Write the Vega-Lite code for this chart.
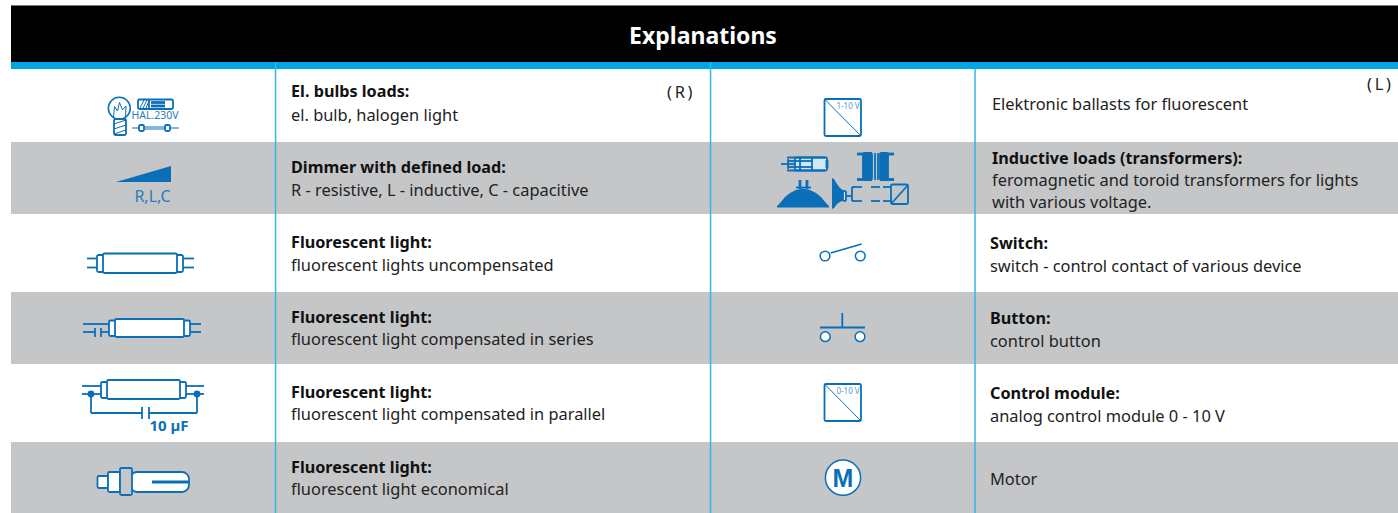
{"$schema":"https://vega.github.io/schema/vega-lite/v6.json","width":1398,"height":513,"autosize":{"type":"fit","contains":"padding"},"padding":0,"background":"#ffffff","config":{"view":{"stroke":null}},
"resolve":{"scale":{"size":"independent","fill":"independent","color":"independent","strokeWidth":"independent"}},
"datasets":{
"bands":[{"x":11,"x2":1398,"y":5,"y2":6,"k":"edge"},{"x":11,"x2":1398,"y":6,"y2":62,"k":"head"},{"x":11,"x2":1398,"y":62,"y2":69,"k":"accent"},{"x":11,"x2":1398,"y":142,"y2":214,"k":"row"},{"x":11,"x2":1398,"y":292,"y2":364,"k":"row"},{"x":11,"x2":1398,"y":442,"y2":513,"k":"row"},{"x":274.8,"x2":276.3,"y":62,"y2":513,"k":"divider"},{"x":709.8,"x2":711.3,"y":62,"y2":513,"k":"divider"},{"x":974.3,"x2":975.8,"y":69,"y2":513,"k":"divider"}],
"tubes":[{"x":130,"x2":189,"y":472,"y2":492}],
"boxes":[
{"x":114,"x2":126,"y":119,"y2":135,"k":"hollow"},{"x":138,"x2":173,"y":99.5,"y2":109,"k":"hollow"},{"x":139,"x2":144,"y":125,"y2":131,"k":"hollow"},{"x":165,"x2":170,"y":125,"y2":131,"k":"hollow"},
{"x":97,"x2":104,"y":255,"y2":272,"k":"hollow"},{"x":176,"x2":183,"y":255,"y2":272,"k":"hollow"},{"x":103,"x2":177,"y":253.5,"y2":273,"k":"hollow"},
{"x":109,"x2":116,"y":320.5,"y2":336,"k":"hollow"},{"x":183,"x2":190,"y":320.5,"y2":336,"k":"hollow"},{"x":115,"x2":184,"y":319,"y2":337,"k":"hollow"},
{"x":101,"x2":108,"y":382,"y2":398,"k":"hollow"},{"x":179,"x2":186,"y":382,"y2":398,"k":"hollow"},{"x":107,"x2":180,"y":380,"y2":399,"k":"hollow"},
{"x":97.5,"x2":108,"y":476,"y2":488,"k":"hollow"},{"x":108,"x2":120,"y":472,"y2":492,"k":"hollow"},{"x":120,"x2":132,"y":468,"y2":495,"k":"shade"},
{"x":824.5,"x2":861,"y":99,"y2":136,"k":"hollow"},{"x":824.5,"x2":861,"y":384,"y2":421,"k":"hollow"},
{"x":795,"x2":827,"y":157.5,"y2":170.5,"k":"pale"},{"x":891,"x2":908,"y":184.5,"y2":204,"k":"shade"},{"x":843,"x2":846,"y":191,"y2":201,"k":"pale"},
{"x":863,"x2":872,"y":153,"y2":180,"k":"solid"},{"x":880,"x2":888,"y":153,"y2":180,"k":"solid"}
],
"wedges":[
{"x":116,"y":182,"y2":182,"s":"wedge"},{"x":171,"y":166,"y2":182,"s":"wedge"},
{"x":777,"y":206,"y2":207.5,"s":"dome"},{"x":780,"y":203,"y2":207.5,"s":"dome"},{"x":785,"y":197,"y2":207.5,"s":"dome"},{"x":790,"y":193,"y2":207.5,"s":"dome"},{"x":796,"y":190,"y2":207.5,"s":"dome"},{"x":803,"y":188.5,"y2":207.5,"s":"dome"},{"x":810,"y":190,"y2":207.5,"s":"dome"},{"x":816,"y":193,"y2":207.5,"s":"dome"},{"x":821,"y":197,"y2":207.5,"s":"dome"},{"x":826,"y":203,"y2":207.5,"s":"dome"},{"x":829,"y":206,"y2":207.5,"s":"dome"},
{"x":832,"y":178,"y2":209,"s":"reflector"},{"x":834,"y":179,"y2":208,"s":"reflector"},{"x":837,"y":184,"y2":204,"s":"reflector"},{"x":840,"y":188,"y2":202,"s":"reflector"},{"x":844,"y":191,"y2":200,"s":"reflector"}
],
"strokes":[
{"x":113.5,"y":117,"x2":114.5,"y2":106.5,"p":"thin"},{"x":114.5,"y":106.5,"x2":117.5,"y2":111,"p":"thin"},{"x":117.5,"y":111,"x2":119.5,"y2":102.5,"p":"thin"},{"x":119.5,"y":102.5,"x2":122.5,"y2":110,"p":"thin"},{"x":122.5,"y":110,"x2":126,"y2":106,"p":"thin"},{"x":126,"y":106,"x2":125.5,"y2":117,"p":"thin"},
{"x":114,"y":124,"x2":126,"y2":120,"p":"thin"},{"x":114,"y":129,"x2":126,"y2":125,"p":"thin"},{"x":114,"y":134,"x2":126,"y2":130,"p":"thin"},
{"x":149,"y":99.5,"x2":149,"y2":109,"p":"mid"},{"x":140,"y":108,"x2":144,"y2":100,"p":"thin"},{"x":143,"y":108,"x2":147,"y2":100,"p":"thin"},{"x":146,"y":108,"x2":149,"y2":101,"p":"thin"},{"x":151,"y":102.5,"x2":165,"y2":102.5,"p":"thick"},{"x":151,"y":106,"x2":165,"y2":106,"p":"thick"},
{"x":132,"y":128,"x2":139,"y2":128,"p":"thin"},{"x":170,"y":128,"x2":179,"y2":128,"p":"thin"},{"x":144,"y":127,"x2":165,"y2":127,"p":"thin"},{"x":144,"y":129,"x2":165,"y2":129,"p":"thin"},
{"x":87,"y":258.5,"x2":97,"y2":258.5,"p":"mid"},{"x":87,"y":267.5,"x2":97,"y2":267.5,"p":"mid"},{"x":183,"y":258.5,"x2":194,"y2":258.5,"p":"mid"},{"x":183,"y":267.5,"x2":194,"y2":267.5,"p":"mid"},
{"x":83,"y":324,"x2":109,"y2":324,"p":"mid"},{"x":83,"y":332,"x2":95,"y2":332,"p":"mid"},{"x":95,"y":328,"x2":95,"y2":337,"p":"mid"},{"x":101,"y":328,"x2":101,"y2":337,"p":"mid"},{"x":101,"y":332,"x2":109,"y2":332,"p":"mid"},{"x":190,"y":324,"x2":201,"y2":324,"p":"mid"},{"x":190,"y":332,"x2":201,"y2":332,"p":"mid"},
{"x":82,"y":386,"x2":101,"y2":386,"p":"mid"},{"x":82,"y":394,"x2":101,"y2":394,"p":"mid"},{"x":186,"y":386,"x2":204,"y2":386,"p":"mid"},{"x":186,"y":394,"x2":204,"y2":394,"p":"mid"},{"x":91,"y":394,"x2":91,"y2":413,"p":"mid"},{"x":197,"y":394,"x2":197,"y2":413,"p":"mid"},{"x":91,"y":413,"x2":142,"y2":413,"p":"mid"},{"x":149,"y":413,"x2":197,"y2":413,"p":"mid"},{"x":142,"y":407,"x2":142,"y2":419,"p":"mid"},{"x":149,"y":407,"x2":149,"y2":419,"p":"mid"},
{"x":152,"y":482,"x2":189,"y2":482,"p":"thick"},
{"x":824.5,"y":99,"x2":861,"y2":136,"p":"thin"},{"x":824.5,"y":384,"x2":861,"y2":421,"p":"thin"},
{"x":781,"y":164,"x2":795,"y2":164,"p":"mid"},{"x":788,"y":159,"x2":788,"y2":169,"p":"mid"},{"x":800,"y":158,"x2":800,"y2":170,"p":"mid"},{"x":788,"y":161,"x2":812,"y2":161,"p":"mid"},{"x":788,"y":167,"x2":812,"y2":167,"p":"mid"},{"x":812,"y":158,"x2":812,"y2":170,"p":"mid"},{"x":787,"y":157.5,"x2":825,"y2":157.5,"p":"mid"},{"x":787,"y":170.5,"x2":825,"y2":170.5,"p":"mid"},{"x":827,"y":160,"x2":827,"y2":168,"p":"thick"},
{"x":857,"y":154,"x2":872,"y2":154,"p":"thick"},{"x":857,"y":179.5,"x2":872,"y2":179.5,"p":"thick"},{"x":880,"y":154,"x2":894,"y2":154,"p":"thick"},{"x":880,"y":179.5,"x2":894,"y2":179.5,"p":"thick"},{"x":875,"y":153,"x2":875,"y2":180,"p":"mid"},{"x":878,"y":153,"x2":878,"y2":180,"p":"mid"},
{"x":800,"y":189,"x2":800,"y2":180,"p":"thick"},{"x":807,"y":189,"x2":807,"y2":180,"p":"thick"},{"x":796,"y":187.5,"x2":811,"y2":187.5,"p":"mid"},
{"x":846,"y":196,"x2":852,"y2":196,"p":"mid"},{"x":852,"y":187,"x2":852,"y2":201,"p":"mid"},{"x":852,"y":187,"x2":862,"y2":187,"p":"mid"},{"x":852,"y":201,"x2":862,"y2":201,"p":"mid"},{"x":871,"y":187,"x2":880,"y2":187,"p":"mid"},{"x":871,"y":201,"x2":880,"y2":201,"p":"mid"},{"x":883,"y":187,"x2":891,"y2":187,"p":"mid"},{"x":883,"y":201,"x2":891,"y2":201,"p":"mid"},
{"x":891,"y":204,"x2":908,"y2":185,"p":"mid"},
{"x":830.7,"y":253,"x2":861.7,"y2":244,"p":"mid"},
{"x":820,"y":327.5,"x2":865,"y2":327.5,"p":"mid"},{"x":842.3,"y":313,"x2":842.3,"y2":327.5,"p":"mid"}
],
"rings":[{"x":119.3,"y":108.3,"k":"bulb"},{"x":825,"y":256,"k":"contact"},{"x":860.3,"y":256,"k":"contact"},{"x":825.3,"y":336.7,"k":"contact"},{"x":860,"y":336.7,"k":"contact"},{"x":843,"y":477.7,"k":"motor"},{"x":91,"y":394,"k":"node"},{"x":197,"y":394,"k":"node"}],
"labels":[
{"x":291,"y":91,"t":"El. bulbs loads:","w":"head"},{"x":291,"y":115,"t":"el. bulb, halogen light","w":"body"},
{"x":291,"y":167,"t":"Dimmer with defined load:","w":"head"},{"x":291,"y":190,"t":"R - resistive, L - inductive, C - capacitive","w":"body"},
{"x":291,"y":242,"t":"Fluorescent light:","w":"head"},{"x":291,"y":265,"t":"fluorescent lights uncompensated","w":"body"},
{"x":291,"y":317,"t":"Fluorescent light:","w":"head"},{"x":291,"y":339,"t":"fluorescent light compensated in series","w":"body"},
{"x":291,"y":392,"t":"Fluorescent light:","w":"head"},{"x":291,"y":414,"t":"fluorescent light compensated in parallel","w":"body"},
{"x":291,"y":467,"t":"Fluorescent light:","w":"head"},{"x":291,"y":489,"t":"fluorescent light economical","w":"body"},
{"x":992,"y":104,"t":"Elektronic ballasts for fluorescent","w":"body"},
{"x":992,"y":158,"t":"Inductive loads (transformers):","w":"head"},{"x":992,"y":180,"t":"feromagnetic and toroid transformers for lights","w":"body"},{"x":992,"y":202,"t":"with various voltage.","w":"body"},
{"x":990,"y":243,"t":"Switch:","w":"head"},{"x":990,"y":266,"t":"switch - control contact of various device","w":"body"},
{"x":990,"y":318,"t":"Button:","w":"head"},{"x":990,"y":341,"t":"control button","w":"body"},
{"x":990,"y":393,"t":"Control module:","w":"head"},{"x":990,"y":416,"t":"analog control module 0 - 10 V","w":"body"},
{"x":990,"y":479,"t":"Motor","w":"body"},
{"x":667,"y":92,"t":"(\u2009R\u2009)","w":"body"},{"x":1367,"y":84,"t":"(\u2009L\u2009)","w":"body"}
],
"iconText":[{"x":155,"y":116,"t":"HAL.230V","k":"hal"},{"x":152.5,"y":197,"t":"R,L,C","k":"rlc"},{"x":848,"y":107,"t":"1-10 V","k":"volt"},{"x":848,"y":392,"t":"0-10 V","k":"volt"}]
},
"layer":[
{"data":{"name":"bands"},"mark":{"type":"rect"},"encoding":{"x":{"field":"x","type":"quantitative","scale":{"domain":[0,1398],"nice":false,"zero":false},"axis":null},"x2":{"field":"x2"},"y":{"field":"y","type":"quantitative","scale":{"domain":[513,0],"nice":false,"zero":false},"axis":null},"y2":{"field":"y2"},"fill":{"field":"k","type":"nominal","legend":null,"scale":{"domain":["edge","head","accent","row","divider"],"range":["#777777","#000000","#00a5e3","#c5c6c8","#35b6ea"]}}}},
{"data":{"name":"wedges"},"mark":{"type":"area","color":"#0b6fb8","interpolate":"linear"},"encoding":{"x":{"field":"x","type":"quantitative"},"y":{"field":"y","type":"quantitative"},"y2":{"field":"y2"},"detail":{"field":"s"}}},
{"data":{"name":"rings"},"mark":{"type":"point","shape":"circle","filled":true,"stroke":"#0b6fb8","strokeWidth":1.5,"opacity":1},"encoding":{"x":{"field":"x","type":"quantitative"},"y":{"field":"y","type":"quantitative"},"size":{"field":"k","type":"nominal","legend":null,"scale":{"type":"ordinal","domain":["bulb","contact","motor","node"],"range":[480,95,1240,28]}},"fill":{"field":"k","type":"nominal","legend":null,"scale":{"domain":["bulb","contact","motor","node"],"range":["#ffffff","#ffffff","#ffffff","#0b6fb8"]}}}},
{"data":{"name":"tubes"},"mark":{"type":"rect","stroke":"#0b6fb8","strokeWidth":1.8,"cornerRadius":7,"fill":"#ffffff"},"encoding":{"x":{"field":"x","type":"quantitative"},"x2":{"field":"x2"},"y":{"field":"y","type":"quantitative"},"y2":{"field":"y2"}}},
{"data":{"name":"boxes"},"mark":{"type":"rect","stroke":"#0b6fb8","strokeWidth":1.8,"cornerRadius":1.5},"encoding":{"x":{"field":"x","type":"quantitative"},"x2":{"field":"x2"},"y":{"field":"y","type":"quantitative"},"y2":{"field":"y2"},"fill":{"field":"k","type":"nominal","legend":null,"scale":{"domain":["hollow","shade","pale","solid"],"range":["#ffffff","#c5c6c8","#d3e8f6","#0b6fb8"]}}}},
{"data":{"name":"strokes"},"mark":{"type":"rule","stroke":"#0b6fb8"},"encoding":{"x":{"field":"x","type":"quantitative"},"x2":{"field":"x2"},"y":{"field":"y","type":"quantitative"},"y2":{"field":"y2"},"strokeWidth":{"field":"p","type":"nominal","legend":null,"scale":{"type":"ordinal","domain":["thin","mid","thick"],"range":[1,1.8,2.8]}}}},
{"data":{"name":"iconText"},"mark":{"type":"text","align":"center","baseline":"middle","font":"Noto Sans"},"encoding":{"x":{"field":"x","type":"quantitative"},"y":{"field":"y","type":"quantitative"},"text":{"field":"t"},"size":{"field":"k","type":"nominal","legend":null,"scale":{"type":"ordinal","domain":["hal","rlc","volt"],"range":[10.5,16,8]}},"color":{"field":"k","type":"nominal","legend":null,"scale":{"domain":["hal","rlc","volt"],"range":["#2a7cbd","#2a7cbd","#4f9bd3"]}}}},
{"data":{"values":[{"x":169,"y":426,"t":"10 µF"}]},"mark":{"type":"text","align":"center","baseline":"middle","font":"Noto Sans","fontWeight":"bold","fontSize":15,"color":"#0b6fb8"},"encoding":{"x":{"field":"x","type":"quantitative"},"y":{"field":"y","type":"quantitative"},"text":{"field":"t"}}},
{"data":{"values":[{"x":843,"y":478.5,"t":"M"}]},"mark":{"type":"text","align":"center","baseline":"middle","font":"Liberation Sans","fontWeight":"bold","fontSize":25,"color":"#0b6fb8"},"encoding":{"x":{"field":"x","type":"quantitative"},"y":{"field":"y","type":"quantitative"},"text":{"field":"t"}}},
{"data":{"values":[{"x":703,"y":37,"t":"Explanations"}]},"mark":{"type":"text","align":"center","baseline":"middle","font":"Noto Sans","fontWeight":"bold","fontSize":23,"color":"#ffffff"},"encoding":{"x":{"field":"x","type":"quantitative"},"y":{"field":"y","type":"quantitative"},"text":{"field":"t"}}},
{"data":{"name":"labels"},"transform":[{"filter":"datum.w === 'head'"}],"mark":{"type":"text","align":"left","baseline":"middle","dy":1,"font":"Noto Sans","fontWeight":"bold","fontSize":16.2,"color":"#111111"},"encoding":{"x":{"field":"x","type":"quantitative"},"y":{"field":"y","type":"quantitative"},"text":{"field":"t"}}},
{"data":{"name":"labels"},"transform":[{"filter":"datum.w === 'body'"}],"mark":{"type":"text","align":"left","baseline":"middle","dy":1,"font":"Noto Sans","fontSize":16.4,"color":"#222222"},"encoding":{"x":{"field":"x","type":"quantitative"},"y":{"field":"y","type":"quantitative"},"text":{"field":"t"}}}
]}
